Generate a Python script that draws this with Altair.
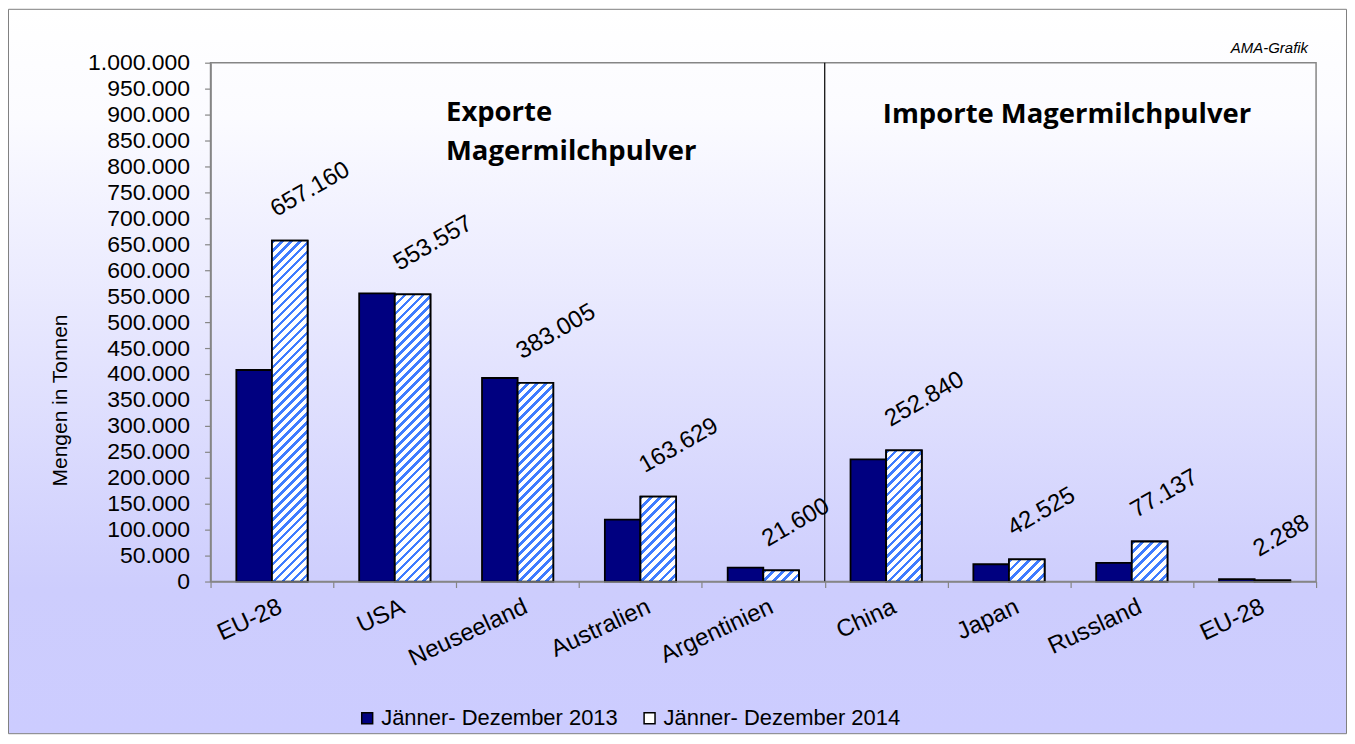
import json
import altair as alt
import pandas as pd

# ---------------- data ----------------
categories = ["EU-28", "USA", "Neuseeland", "Australien", "Argentinien",
              "China", "Japan", "Russland", "EU-28"]
series = ["Jänner- Dezember 2013", "Jänner- Dezember 2014"]
values_2013 = [407700, 555300, 392300, 119500, 26900, 235400, 33300, 36000, 4500]
values_2014 = [657160, 553557, 383005, 163629, 21600, 252840, 42525, 77137, 2288]
y_ticks = list(range(0, 1000001, 50000))
y_title = "Mengen in Tonnen"
export_lines = ["Exporte", "Magermilchpulver"]
import_text = "Importe Magermilchpulver"
source_text = "AMA-Grafik"
split_index = 5  # first import category

rows = []
for i, c in enumerate(categories):
    rows.append({"idx": i, "cat": c, "series": series[0], "value": values_2013[i]})
    rows.append({"idx": i, "cat": c, "series": series[1], "value": values_2014[i]})
df = pd.DataFrame(rows)

# ---------------- layout / style ----------------
W, H = 1108, 520
PAD = {"left": 203, "top": 54, "right": 31, "bottom": 153}
N = len(categories)
STEP = W / N
BAR_W = 35.7
OFF_PAD = (STEP / BAR_W - 2) / 2
NAVY = "#000080"
STRIPE = "#3f7cff"
FONT = "Liberation Sans"
GREY = "#868686"
BAR_STROKE = 1.8

ger = "replace(format(datum.value, ','), regexp(',', 'g'), '.')"
x_label_expr = json.dumps(categories) + "[datum.value]"

common_axis = dict(
    labelFont=FONT, titleFont=FONT, labelColor="black", titleColor="black",
    domainColor=GREY, tickColor=GREY, domainWidth=1.5, tickWidth=1.2,
    grid=False, zindex=1,
)


def x_enc(**kw):
    return alt.X(
        "idx:O",
        scale=alt.Scale(paddingInner=0, paddingOuter=0),
        axis=alt.Axis(
            title=None, labelExpr=x_label_expr, labelAngle=-25,
            labelAlign="right", labelBaseline="top", labelFontSize=24,
            labelPadding=7, labelOffset=3, tickBand="extent", tickSize=6,
            **common_axis,
        ),
        **kw,
    )


xoff = alt.XOffset("series:N",
                   scale=alt.Scale(domain=series, paddingInner=0, paddingOuter=OFF_PAD))
y_enc = alt.Y(
    "value:Q",
    scale=alt.Scale(domain=[0, 1000000], nice=False),
    axis=alt.Axis(
        values=y_ticks, labelExpr=ger, title=y_title, labelFontSize=23,
        labelPadding=15, tickSize=6, titleFontSize=21, titleFontWeight="normal",
        titleAngle=270, titleX=-150, titleY=338, titleAlign="center",
        titleBaseline="middle", **common_axis,
    ),
)


def hatch(w, h, period=9.0, frac=0.4):
    n = max(1, round((w + h) / period))
    s = (w + h) / (w * w + h * h)
    stops = []
    for k in range(n):
        a = round(k / n, 5)
        b = round((k + frac) / n, 5)
        c = round((k + 1) / n, 5)
        stops += [{"offset": a, "color": STRIPE}, {"offset": b, "color": STRIPE},
                  {"offset": b, "color": "#ffffff"}, {"offset": c, "color": "#ffffff"}]
    return {"gradient": "linear", "x1": 0, "y1": 0,
            "x2": round(w * s, 5), "y2": round(h * s, 5), "stops": stops}


one = alt.Data(values=[{"k": 1}])

bg_grad = {"gradient": "linear", "x1": 0, "y1": 0, "x2": 0, "y2": 1,
           "stops": [{"offset": 0, "color": "#ffffff"},
                     {"offset": 0.15, "color": "#fbfbff"},
                     {"offset": 0.8, "color": "#cdcdfd"},
                     {"offset": 1, "color": "#ccccff"}]}

background = alt.Chart(one).mark_rect(fill=bg_grad, stroke="#808080", strokeWidth=1).encode(
    x=alt.value(-PAD["left"] + 0.5), x2=alt.value(W + PAD["right"] - 0.5),
    y=alt.value(-PAD["top"] + 0.5), y2=alt.value(H + PAD["bottom"] - 0.5),
)
border = alt.Chart(one).mark_rect(fillOpacity=0, stroke=GREY, strokeWidth=1.5).encode(
    x=alt.value(0), x2=alt.value(W), y=alt.value(0), y2=alt.value(H),
)

bars = alt.Chart(df).mark_bar(stroke="black", strokeWidth=BAR_STROKE).encode(
    x=x_enc(), xOffset=xoff, y=y_enc,
    color=alt.Color(
        "series:N",
        scale=alt.Scale(domain=series, range=[NAVY, "#ffffff"]),
        legend=alt.Legend(
            title=None, orient="none", legendX=146, legendY=646,
            direction="horizontal", symbolType="square", symbolSize=120,
            symbolStrokeColor="black", symbolStrokeWidth=1.5, symbolOpacity=1,
            labelFontSize=22, labelFont=FONT, labelColor="black",
            columnPadding=20, labelLimit=400, labelOffset=3, padding=0,
        ),
    ),
)

hatch_layers = []
for i, v in enumerate(values_2014):
    h = v / 1000000 * H
    hatch_layers.append(
        alt.Chart(df)
        .transform_filter(f"datum.idx == {i} && datum.series == '{series[1]}'")
        .mark_bar(fill=hatch(BAR_W, h), stroke="black", strokeWidth=BAR_STROKE)
        .encode(x=x_enc(), xOffset=xoff, y=y_enc)
    )

divider = alt.Chart(alt.Data(values=[{"idx": split_index}])).mark_rule(
    color="black", strokeWidth=1.2
).encode(x=x_enc(bandPosition=0), y=alt.value(0), y2=alt.value(H))

value_labels = (
    alt.Chart(df)
    .transform_filter(f"datum.series == '{series[1]}'")
    .transform_calculate(label=ger)
    .mark_text(angle=330, align="left", baseline="alphabetic", dx=0, dy=-27,
               fontSize=24, font=FONT, color="black")
    .encode(x=x_enc(), xOffset=xoff, y=y_enc, text="label:N")
)


def note(text, x, y, size=27.5, weight="bold", font="Open Sans", align="left", style="normal"):
    return alt.Chart(one).mark_text(
        align=align, baseline="alphabetic", fontSize=size, fontWeight=weight,
        font=font, fontStyle=style, color="black",
    ).encode(x=alt.value(x), y=alt.value(y), text=alt.value(text))


notes = [
    note(export_lines[0], 236, 58),
    note(export_lines[1], 236, 98),
    note(import_text, 1043, 60, align="right"),
    note(source_text, 1100, -10, size=15, weight="normal", font=FONT, align="right",
         style="italic"),
]

chart = (
    alt.layer(background, border, bars, *hatch_layers, divider, value_labels, *notes)
    .properties(width=W, height=H, padding=PAD, autosize=alt.AutoSizeParams(type="none"))
    .configure_view(stroke="transparent")
)

chart.save("out.html", embed_options={"renderer": "svg", "actions": False})
